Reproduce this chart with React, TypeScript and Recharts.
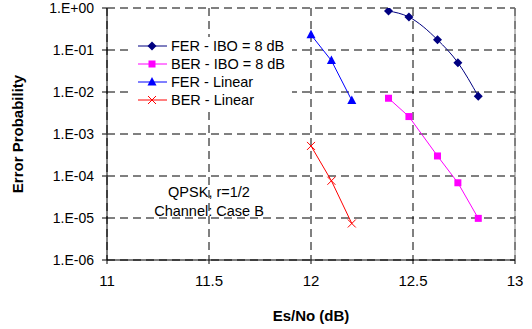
import { LineChart, Line, XAxis, YAxis, CartesianGrid, ReferenceLine } from 'recharts';

const ferIboX = [12.38, 12.48, 12.62, 12.72, 12.82];
const ferIboY = [0.85, 0.61, 0.175, 0.05, 0.0079];
const berIboX = [12.38, 12.48, 12.62, 12.72, 12.82];
const berIboY = [0.0071, 0.0026, 0.0003, 0.000069, 0.0000098];
const ferLinX = [12.0, 12.1, 12.2];
const ferLinY = [0.23, 0.056, 0.0063];
const berLinX = [12.0, 12.1, 12.2];
const berLinY = [0.00052, 0.000077, 0.0000074];

const xTicks = [11, 11.5, 12, 12.5, 13];
const yTicks = [1, 0.1, 0.01, 0.001, 0.0001, 0.00001, 0.000001];

const toRows = (xs: number[], ys: number[]) => xs.map((x, i) => ({ x, y: ys[i] }));

const fmtY = (v: number) => {
  const e = Math.round(Math.log10(v));
  return `1.E${e >= 0 ? '+' : '-'}${String(Math.abs(e)).padStart(2, '0')}`;
};

const Diamond = (props: any) => {
  const { cx, cy } = props;
  if (cx == null || cy == null) return null;
  return <polygon points={`${cx},${cy - 4.5} ${cx + 4.5},${cy} ${cx},${cy + 4.5} ${cx - 4.5},${cy}`} fill="#000080" />;
};
const Square = (props: any) => {
  const { cx, cy } = props;
  if (cx == null || cy == null) return null;
  return <rect x={cx - 3.5} y={cy - 3.5} width={7} height={7} fill="#FF00FF" />;
};
const Triangle = (props: any) => {
  const { cx, cy } = props;
  if (cx == null || cy == null) return null;
  return <polygon points={`${cx},${cy - 5} ${cx + 4.5},${cy + 3.5} ${cx - 4.5},${cy + 3.5}`} fill="#0000FF" />;
};
const Cross = (props: any) => {
  const { cx, cy } = props;
  if (cx == null || cy == null) return null;
  return (
    <g stroke="#FF0000" strokeWidth={1}>
      <line x1={cx - 4} y1={cy - 4} x2={cx + 4} y2={cy + 4} />
      <line x1={cx - 4} y1={cy + 4} x2={cx + 4} y2={cy - 4} />
    </g>
  );
};

const series = [
  { name: 'FER - IBO = 8 dB', color: '#000080', marker: Diamond },
  { name: 'BER - IBO = 8 dB', color: '#FF00FF', marker: Square },
  { name: 'FER - Linear', color: '#0000FF', marker: Triangle },
  { name: 'BER - Linear', color: '#FF0000', marker: Cross },
];

const LegendBox = () => (
  <div style={{ position: 'absolute', left: 128, top: 37, width: 155, paddingLeft: 9, background: '#fff', fontSize: 14.5, color: '#000' }}>
    {series.map((s) => {
      const M = s.marker;
      return (
        <div key={s.name} style={{ display: 'flex', alignItems: 'center', height: 18 }}>
          <svg width={31} height={12}>
            <line x1={1} y1={6} x2={30} y2={6} stroke={s.color} strokeWidth={1} />
            <M cx={15} cy={6} />
          </svg>
          <span style={{ marginLeft: 3 }}>{s.name}</span>
        </div>
      );
    })}
  </div>
);

export default function App() {
  return (
    <div style={{ position: 'absolute', left: 0, top: 0, width: 532, height: 329, background: '#fff', fontFamily: 'Arial, "Liberation Sans", sans-serif' }}>
      <LineChart width={532} height={329} margin={{ top: 8, right: 17, bottom: 5, left: 0 }}>
        <CartesianGrid stroke="#000" strokeDasharray="8 5" />
        <XAxis
          type="number"
          dataKey="x"
          domain={[11, 13]}
          ticks={xTicks}
          interval={0}
          allowDuplicatedCategory={false}
          stroke="#000"
          tickSize={4}
          tickMargin={11}
          height={64}
          tick={{ fill: '#000', fontSize: 15 }}
          label={{ value: 'Es/No (dB)', position: 'insideBottom', offset: 3, style: { fontWeight: 'bold', fontSize: 15, fill: '#000' } }}
        />
        <YAxis
          type="number"
          scale="log"
          domain={[0.000001, 1]}
          ticks={yTicks}
          interval={0}
          tickFormatter={fmtY}
          width={107}
          stroke="#000"
          tickSize={5}
          tickMargin={8}
          tick={{ fill: '#000', fontSize: 14 }}
          allowDataOverflow
          label={{ value: 'Error Probability', angle: -90, position: 'insideLeft', offset: 18, style: { fontWeight: 'bold', fontSize: 15, fill: '#000', textAnchor: 'middle' } }}
        />
        <ReferenceLine x={13} stroke="#808080" />
        <ReferenceLine y={1} stroke="#808080" strokeDasharray="8 5" />
        <Line data={toRows(ferIboX, ferIboY)} dataKey="y" type="monotone" stroke="#000080" strokeWidth={1} dot={<Diamond />} isAnimationActive={false} name={series[0].name} />
        <Line data={toRows(berIboX, berIboY)} dataKey="y" type="linear" stroke="#FF00FF" strokeWidth={1} dot={<Square />} isAnimationActive={false} name={series[1].name} />
        <Line data={toRows(ferLinX, ferLinY)} dataKey="y" type="linear" stroke="#0000FF" strokeWidth={1} dot={<Triangle />} isAnimationActive={false} name={series[2].name} />
        <Line data={toRows(berLinX, berLinY)} dataKey="y" type="linear" stroke="#FF0000" strokeWidth={1} dot={<Cross />} isAnimationActive={false} name={series[3].name} />
      </LineChart>
      <LegendBox />
      <div style={{ position: 'absolute', left: 134, top: 183, width: 150, textAlign: 'center', fontSize: 14.5, lineHeight: '19px', color: '#000' }}>
        <div>QPSK, r=1/2</div>
        <div>Channel: Case B</div>
      </div>
    </div>
  );
}
